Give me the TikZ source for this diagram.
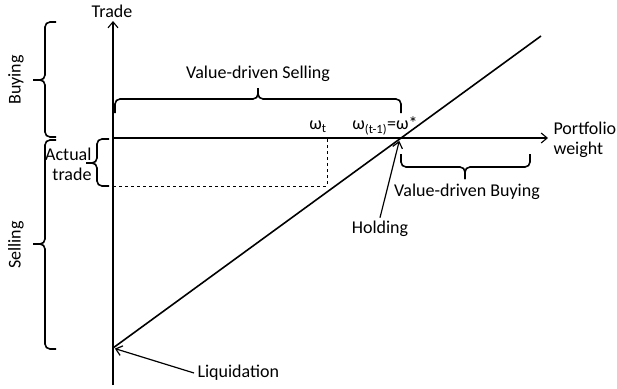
\documentclass[tikz,border=0pt]{standalone}
\usepackage{fontspec}
\setmainfont{Carlito}
\usepackage{tikz}
\usetikzlibrary{positioning,calc,arrows.meta}
\tikzset{>={Straight Barb[length=6pt,width=10pt]}}
\tikzset{brc/.style={line width=1.6pt,rounded corners=5pt}}
\newcommand*{\lo}[1]{\textsubscript{#1}}

\begin{document}
\begin{tikzpicture}[x=1pt,y=-1pt,font=\fontsize{18}{20}\selectfont]
\useasboundingbox (0,0) rectangle (617,388);
\coordinate (O) at (113,138);
\coordinate (ybot) at (113,385);
\coordinate (ytop) at (113,21);
\coordinate (xend) at (548,138);
\coordinate (liq) at (113,348);
\coordinate (lend) at (541,36);
\coordinate (hold) at (400,138);
\coordinate (wt) at (327,138);
\coordinate (wtb) at (327,186);
\coordinate (atb) at (113,186);
% axes
\draw[line width=1.1pt,->] (ybot) -- (ytop);
\draw[line width=1.1pt,->] (O) -- (xend);
\node (trade) at (112,11) {Trade};
\node[anchor=west,align=left] (pw) at (550,140) {Portfolio\\weight};
% trade line
\draw[line width=1.6pt] (liq) -- (lend);
\draw[dashed,line width=.8pt] (atb) -- (wtb) -- (wt);
\node (wtl) at (318,127) {ω\lo{t}};
\node (wsl) at (385,126) {ω\lo{(t-1)}=ω*};
% braces
\draw[brc] (56,22) -- (45,22) -- (45,80) -- (33,80);
\draw[brc] (56,137) -- (45,137) -- (45,80) -- (33,80);
\node[rotate=90] (buy) at (16,80) {Buying};
\draw[brc] (56,140) -- (45,140) -- (45,244) -- (33,244);
\draw[brc] (56,349) -- (45,349) -- (45,244) -- (33,244);
\node[rotate=90] (sell) at (16,245) {Selling};
\draw[brc] (109,139) -- (97,139) -- (97,163) -- (86,163);
\draw[brc] (109,186) -- (97,186) -- (97,163) -- (86,163);
\node[anchor=east,align=right] (act) at (95,164) {Actual\\trade};
\draw[brc] (115,113) -- (115,99) -- (258,99) -- (258,88);
\draw[brc] (401,113) -- (401,99) -- (258,99) -- (258,88);
\node (vds) at (258,74) {Value-driven Selling};
\draw[brc] (401,154) -- (401,167) -- (465,167) -- (465,179);
\draw[brc] (530,154) -- (530,167) -- (465,167) -- (465,179);
\node (vdb) at (467,192) {Value-driven Buying};
% labels with arrows
\node (hl) at (380,229) {Holding};
\draw[line width=1.2pt,->,shorten >=3pt] (hl.north) -- (hold);
\node[anchor=west] (ll) at (194,373) {Liquidation};
\draw[line width=1.2pt,->,shorten >=2pt] (ll.west) -- (liq);
\end{tikzpicture}
\end{document}
